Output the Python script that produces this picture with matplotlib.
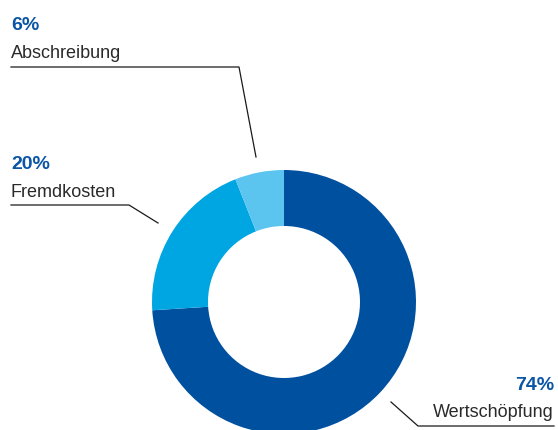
import matplotlib
matplotlib.use("Agg")
import matplotlib.pyplot as plt

categories = ["Wertschöpfung", "Fremdkosten", "Abschreibung"]
values = [74, 20, 6]
pct_labels = ["74%", "20%", "6%"]
colors = ["#0050A0", "#00A6E2", "#5BC5F0"]

W, H = 558, 430
fig = plt.figure(figsize=(W / 100, H / 100), dpi=100)
ax = fig.add_axes([0, 0, 1, 1])
ax.set_xlim(0, W)
ax.set_ylim(0, H)
ax.axis("off")

def Y(p):
    return H - p

ax.pie(values, colors=colors, startangle=90, counterclock=False,
       radius=132, center=(284, Y(302)),
       wedgeprops=dict(width=56, linewidth=0))
ax.set_xlim(0, W)
ax.set_ylim(0, H)
ax.set_aspect("equal")

font = "Liberation Sans"
pct_color = "#0A55A5"
txt_color = "#2a2a2a"
lc = "#1a1a1a"
pfs = 14

# Abschreibung
ax.text(11, Y(30), pct_labels[2], fontsize=pfs, fontweight="bold", color=pct_color, family=font, ha="left", va="baseline")
ax.text(11, Y(58), categories[2], fontsize=13, color=txt_color, family=font, ha="left", va="baseline")
ax.plot([11, 239, 256], [Y(67), Y(67), Y(157)], color=lc, lw=0.9)

# Fremdkosten
ax.text(11, Y(169), pct_labels[1], fontsize=pfs, fontweight="bold", color=pct_color, family=font, ha="left", va="baseline")
ax.text(11, Y(197), categories[1], fontsize=13, color=txt_color, family=font, ha="left", va="baseline")
ax.plot([11, 129, 158], [Y(205), Y(205), Y(223)], color=lc, lw=0.9)

# Wertschöpfung
ax.text(554, Y(390), pct_labels[0], fontsize=pfs, fontweight="bold", color=pct_color, family=font, ha="right", va="baseline")
ax.text(554, Y(417), categories[0], fontsize=13, color=txt_color, family=font, ha="right", va="baseline")
ax.plot([391, 418, 554], [Y(402), Y(426), Y(426)], color=lc, lw=0.9)

fig.savefig("out.png", dpi=100)
